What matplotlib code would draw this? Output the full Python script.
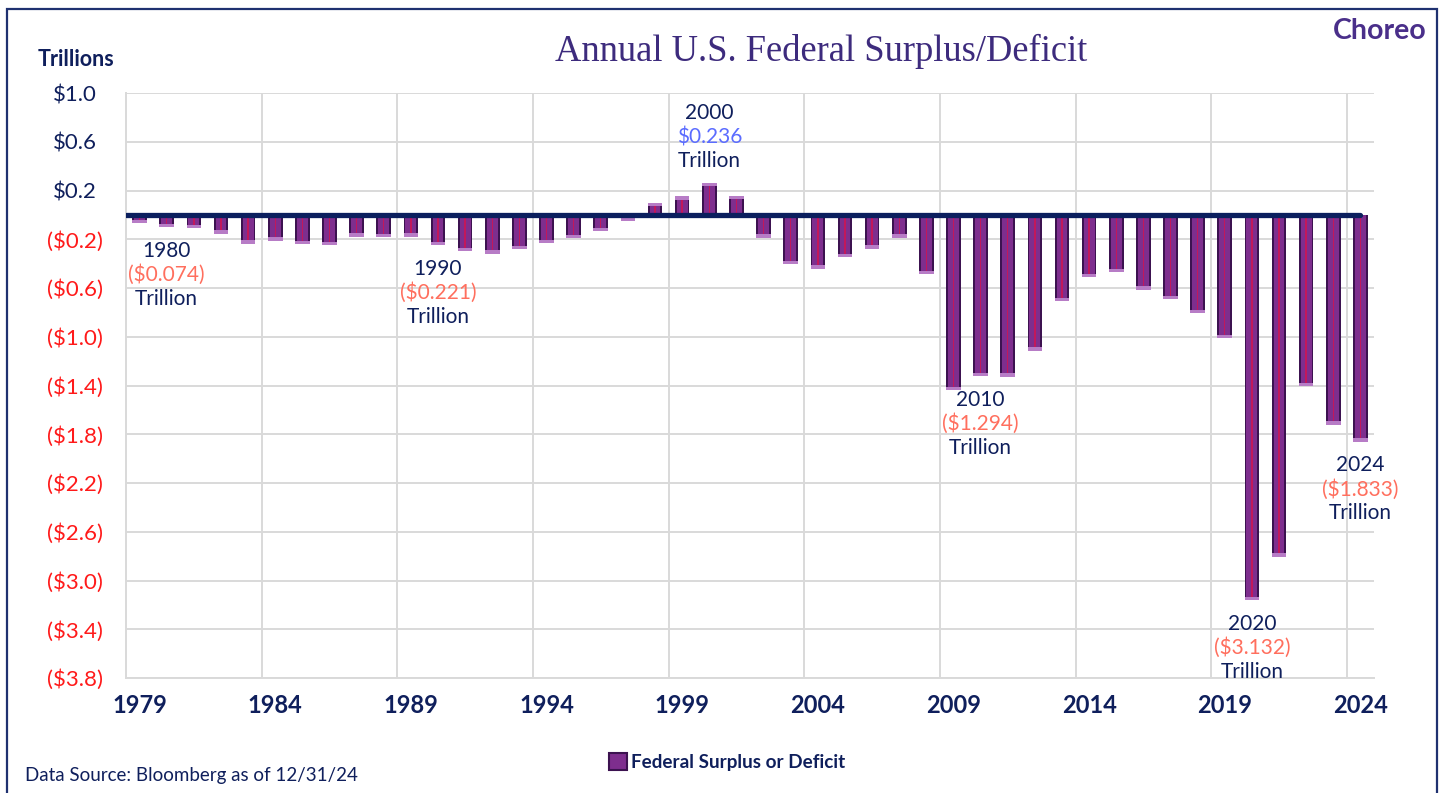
import matplotlib
matplotlib.use('Agg')
import matplotlib.pyplot as plt
from matplotlib.patches import Rectangle

# ---------------- data ----------------
years = list(range(1979, 2025))
deficit = [-0.0407, -0.0738, -0.0790, -0.1280, -0.2078, -0.1854, -0.2123, -0.2212, -0.1497, -0.1552,
           -0.1526, -0.2210, -0.2692, -0.2903, -0.2551, -0.2032, -0.1640, -0.1074, -0.0219, 0.0693,
           0.1256, 0.2362, 0.1282, -0.1578, -0.3776, -0.4127, -0.3183, -0.2482, -0.1607, -0.4586,
           -1.4127, -1.2944, -1.2996, -1.0870, -0.6795, -0.4846, -0.4419, -0.5847, -0.6654, -0.7791,
           -0.9836, -3.1319, -2.7753, -1.3759, -1.6950, -1.8328]
xtick_years = [1979, 1984, 1989, 1994, 1999, 2004, 2009, 2014, 2019, 2024]
ytick_values = [1.0, 0.6, 0.2, -0.2, -0.6, -1.0, -1.4, -1.8, -2.2, -2.6, -3.0, -3.4, -3.8]
label_years = [1980, 1990, 2000, 2010, 2020, 2024]
series_name = 'Federal Surplus or Deficit'

NAVY = '#0f1f5c'
RED = '#ff1a1a'
CORAL = '#ff6f5e'
BLUE = '#5b6cff'
GRID = '#d9d9d9'
SANS = ['Lato', 'DejaVu Sans']

fig = plt.figure(figsize=(14.42, 7.93), dpi=100)
fig.patch.set_facecolor('white')

# outer frame
fig.patches.append(Rectangle((7 / 1442, -0.05), (1437 - 7) / 1442, 1 - 9 / 793 + 0.05,
                             transform=fig.transFigure, fill=False, edgecolor='#1f3170', lw=1.6))

ax = fig.add_axes([126 / 1442, 1 - 678 / 793, 1248 / 1442, 585 / 793])
ax.set_xlim(years[0] - 0.5, years[-1] + 0.5)
ax.set_ylim(ytick_values[-1], ytick_values[0])

# bars with a bevel-like look
ax.bar(years, deficit, width=0.54, color='#3c1250', zorder=3)
ax.bar(years, deficit, width=0.40, color='#7e2e8e', zorder=4)
ax.bar(years, deficit, width=0.05, color='#c2185b', zorder=5)
caps = [-0.028 if v < 0 else 0.028 for v in deficit]
ax.bar(years, caps, bottom=deficit, width=0.54, color='#b77cc6', zorder=4)

# zero line
ax.axhline(0, xmin=0, xmax=(years[-1] - (years[0] - 0.5)) / (len(years)), color='#0b1f5e',
           lw=3.8, zorder=6, solid_capstyle='round')

# grid
ax.set_yticks(ytick_values)
ax.set_xticks(xtick_years)
ax.set_xticks([y - 0.5 for y in xtick_years[1:]], minor=True)
ax.grid(axis='y', color=GRID, lw=1.4, zorder=0)
ax.grid(axis='x', which='minor', color=GRID, lw=1.4, zorder=0)
ax.set_axisbelow(True)
for s in ['top', 'right']:
    ax.spines[s].set_visible(False)
for s in ['left', 'bottom']:
    ax.spines[s].set_color(GRID)
    ax.spines[s].set_linewidth(1.4)
ax.tick_params(which='both', length=0)

def fmt(v):
    return f'${v:.1f}' if v > 0 else f'(${abs(v):.1f})'

ax.set_yticklabels([fmt(v) for v in ytick_values], family=SANS, fontsize=16)
for lab, v in zip(ax.get_yticklabels(), ytick_values):
    lab.set_color(NAVY if v > 0 else RED)
    lab.set_ha('center')
ax.tick_params(axis='y', pad=36.7)

ax.set_xticklabels([str(y) for y in xtick_years], family=SANS, fontsize=17,
                   fontweight='bold', color=NAVY)
for lab in ax.get_xticklabels():
    lab.set_va('center')
ax.tick_params(axis='x', pad=20)

# annotations
for yr in label_years:
    v = deficit[years.index(yr)]
    if v < 0:
        val_txt, col = f'(${abs(v):.3f})', CORAL
        offs = [-19.4, -36.7, -54.0]
    else:
        val_txt, col = f'${v:.3f}', BLUE
        offs = [52.6, 35.3, 18.0]
    for txt, c, o in zip([str(yr), val_txt, 'Trillion'], [NAVY, col, NAVY], offs):
        ax.annotate(txt, xy=(yr, v), xytext=(0, o), textcoords='offset points',
                    ha='center', va='center', fontsize=15, color=c, family=SANS, zorder=7)

# texts
fig.text(821 / 1442, 1 - 60.7 / 793, 'Annual U.S. Federal Surplus/Deficit', ha='center',
         va='baseline', fontsize=26.3, color='#3d2b7d', family=['Liberation Serif', 'DejaVu Serif'])
fig.text(76 / 1442, 1 - 60 / 793, 'Trillions', ha='center', va='center', fontsize=15.5,
         fontweight='bold', color=NAVY, family=SANS)
fig.text(1380 / 1442, 1 - 31 / 793, 'Choreo', ha='center', va='center', fontsize=20.5,
         fontweight='bold', color='#4a2f8a', family=SANS)
fig.text(25 / 1442, 1 - 775 / 793, 'Data Source: Bloomberg as of 12/31/24', ha='left',
         va='center', fontsize=13.5, color=NAVY, family=SANS)

handle = Rectangle((0, 0), 1, 1, facecolor='#7e2e8e', edgecolor='#3c1250', lw=1.5)
fig.legend([handle], [series_name], loc='center', bbox_to_anchor=(727 / 1442, 1 - 762 / 793),
           frameon=False, handlelength=1.0, handleheight=1.0, handletextpad=0.2,
           prop={'family': SANS, 'weight': 'bold', 'size': 13.6}, labelcolor=NAVY)

fig.savefig('out.png', dpi=100, facecolor='white')
